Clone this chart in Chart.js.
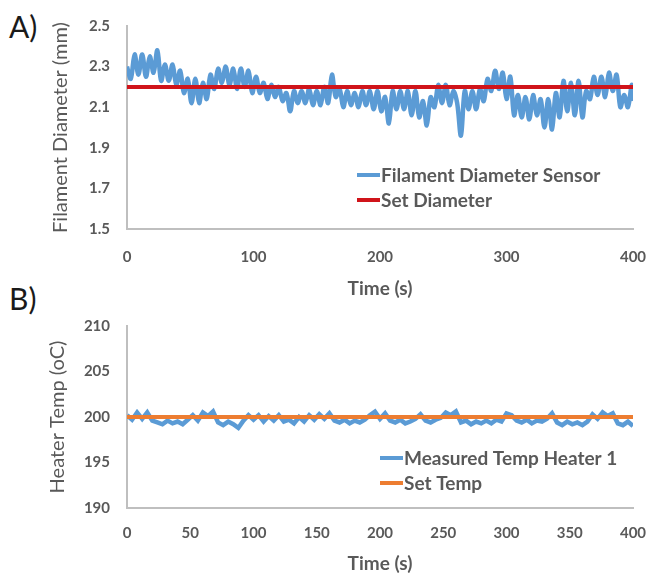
<!DOCTYPE html>
<html>
<head>
<meta charset="utf-8">
<script src="https://cdn.jsdelivr.net/npm/chart.js@4"></script>
<style>
  body { margin: 0; background: #fff; width: 649px; height: 575px; position: relative; overflow: hidden; }
  .panel-label { position: absolute; left: 9px; font-family: Lato, sans-serif; font-size: 30px; color: #1a1a1a; }
  #wrap-a { position: absolute; left: 0; top: 0; width: 649px; height: 300px; }
  #wrap-b { position: absolute; left: 0; top: 300px; width: 649px; height: 275px; }
</style>
</head>
<body>
<div class="panel-label" style="top:8px;">A)</div>
<div class="panel-label" style="top:280px;">B)</div>
<div id="wrap-a"><canvas id="chart-a"></canvas></div>
<div id="wrap-b"><canvas id="chart-b"></canvas></div>
<script>
// panel A: filament diameter (mm) vs time (s)
const timeA = [0, 3, 6, 9, 12, 15, 18, 21, 24, 27, 30, 33, 36, 39, 42, 45, 48, 51, 54, 57,
  60, 63, 66, 69, 72, 75, 78, 81, 84, 87, 90, 93, 96, 99, 102, 105, 108, 111, 114, 117,
  120, 123, 126, 129, 132, 135, 138, 141, 144, 147, 150, 153, 156, 159, 162, 165, 168, 171, 174, 177,
  180, 183, 186, 189, 192, 195, 198, 201, 204, 207, 210, 213, 216, 219, 222, 225, 228, 231, 234, 237,
  240, 243, 246, 249, 252, 255, 258, 261, 264, 267, 270, 273, 276, 279, 282, 285, 288, 291, 294, 297,
  300, 303, 306, 309, 312, 315, 318, 321, 324, 327, 330, 333, 336, 339, 342, 345, 348, 351, 354, 357,
  360, 363, 366, 369, 372, 375, 378, 381, 384, 387, 390, 393, 396, 399, 400];
const diameterSensor = [2.30, 2.24, 2.36, 2.26, 2.36, 2.25, 2.35, 2.27, 2.38, 2.23, 2.31, 2.23, 2.31, 2.21, 2.28, 2.17, 2.24, 2.12, 2.24, 2.12,
  2.22, 2.14, 2.26, 2.19, 2.29, 2.22, 2.30, 2.21, 2.29, 2.19, 2.29, 2.20, 2.28, 2.17, 2.25, 2.17, 2.22, 2.14, 2.21, 2.15,
  2.20, 2.13, 2.17, 2.08, 2.18, 2.12, 2.18, 2.12, 2.19, 2.11, 2.18, 2.11, 2.20, 2.12, 2.26, 2.15, 2.19, 2.10, 2.18, 2.11,
  2.17, 2.10, 2.18, 2.11, 2.18, 2.09, 2.18, 2.08, 2.15, 2.02, 2.18, 2.09, 2.18, 2.09, 2.18, 2.06, 2.18, 2.05, 2.13, 2.01,
  2.15, 2.10, 2.21, 2.12, 2.21, 2.11, 2.18, 2.12, 1.96, 2.18, 2.09, 2.18, 2.09, 2.19, 2.13, 2.24, 2.18, 2.28, 2.19, 2.27,
  2.14, 2.25, 2.06, 2.16, 2.05, 2.15, 2.04, 2.16, 2.06, 2.14, 2.00, 2.14, 1.99, 2.17, 2.05, 2.23, 2.08, 2.22, 2.06, 2.23,
  2.05, 2.18, 2.14, 2.25, 2.16, 2.25, 2.15, 2.27, 2.18, 2.26, 2.10, 2.16, 2.10, 2.21, 2.13];
const setTimeA = [0, 400];
const setDiameter = [2.2, 2.2];

// panel B: heater temperature (oC) vs time (s)
const timeB = [0, 4, 8, 12, 16, 20, 24, 28, 32, 36, 40, 44, 48, 52, 56, 60, 64, 68, 72, 76,
  80, 84, 88, 92, 96, 100, 104, 108, 112, 116, 120, 124, 128, 132, 136, 140, 144, 148, 152, 156,
  160, 164, 168, 172, 176, 180, 184, 188, 192, 196, 200, 204, 208, 212, 216, 220, 224, 228, 232, 236,
  240, 244, 248, 252, 256, 260, 264, 268, 272, 276, 280, 284, 288, 292, 296, 300, 304, 308, 312, 316,
  320, 324, 328, 332, 336, 340, 344, 348, 352, 356, 360, 364, 368, 372, 376, 380, 384, 388, 392, 396, 400];
const measuredTemp = [200.2, 199.7, 200.5, 199.8, 200.5, 199.6, 199.4, 199.2, 199.6, 199.3, 199.5, 199.2, 199.7, 200.2, 199.6, 200.5, 200.1, 200.6, 199.4, 199.1,
  199.5, 199.2, 198.8, 199.6, 200.2, 199.7, 200.2, 199.5, 200.1, 199.6, 200.2, 199.5, 199.7, 199.3, 200.0, 199.5, 200.2, 199.7, 200.3, 199.8,
  200.4, 199.6, 199.4, 199.7, 199.3, 199.6, 199.4, 199.7, 200.2, 200.6, 199.8, 200.4, 199.6, 199.4, 199.7, 199.3, 199.5, 199.8, 200.3, 199.6,
  199.4, 199.7, 199.9, 200.5, 200.2, 200.6, 199.4, 199.6, 199.2, 199.5, 199.3, 199.6, 199.3, 199.7, 199.5, 200.4, 200.2, 199.6, 199.4, 199.7,
  199.3, 199.6, 199.5, 199.8, 200.4, 199.4, 199.1, 199.5, 199.2, 199.4, 199.1, 199.5, 200.3, 199.8, 200.5, 200.1, 200.4, 199.3, 199.1, 199.5, 199.0];
const setTimeB = [0, 400];
const setTemp = [200, 200];

const textColor = '#595959';
const axisColor = '#bfbfbf';
const fontFamily = 'Lato, sans-serif';

const toPoints = (xs, ys) => xs.map((x, i) => ({ x: x, y: ys[i] }));

// draws the legend inside the plot area, lower right
const insideLegend = {
    id: 'insideLegend',
    afterDatasetsDraw(chart, args, opts) {
        const ctx = chart.ctx;
        const area = chart.chartArea;
        ctx.save();
        ctx.font = 'bold 19px ' + fontFamily;
        ctx.textBaseline = 'middle';
        opts.items.forEach((item, i) => {
            const y = area.bottom + opts.bottomOffset + i * 25;
            const x = area.left + opts.leftOffset;
            ctx.strokeStyle = item.color;
            ctx.lineWidth = 4;
            ctx.beginPath();
            ctx.moveTo(x, y);
            ctx.lineTo(x + 23, y);
            ctx.stroke();
            ctx.fillStyle = textColor;
            ctx.fillText(item.text, x + 24, y + 1);
        });
        ctx.restore();
    }
};

function makeChart(id, cfg) {
    return new Chart(document.getElementById(id), {
        type: 'line',
        data: { datasets: cfg.datasets },
        options: {
            responsive: true,
            maintainAspectRatio: false,
            animation: false,
            layout: { padding: { top: cfg.padTop, right: 16, left: 0, bottom: 0 } },
            elements: { point: { radius: 0 } },
            plugins: {
                legend: { display: false },
                tooltip: { enabled: false },
                insideLegend: cfg.legend
            },
            scales: {
                x: {
                    type: 'linear',
                    min: 0,
                    max: 400,
                    // invisible tick marks push the labels down without widening the side padding
                    grid: { color: 'transparent', tickColor: 'transparent', drawTicks: true, tickLength: cfg.xTickPad },
                    border: { color: axisColor, width: 2 },
                    ticks: { stepSize: cfg.xStep, padding: 0, color: textColor, font: { family: fontFamily, size: 15, weight: 'bold' } },
                    title: { display: true, text: 'Time (s)', color: textColor, padding: { top: 0, bottom: 0 }, font: { family: fontFamily, size: 19, weight: 'bold' } },
                    afterFit(scale) { scale.height = cfg.xHeight; }
                },
                y: {
                    min: cfg.yMin,
                    max: cfg.yMax,
                    grid: { color: 'transparent', drawTicks: false },
                    border: { color: axisColor, width: 2 },
                    ticks: {
                        stepSize: cfg.yStep,
                        padding: 17,
                        color: textColor,
                        font: { family: fontFamily, size: 15, weight: 'bold' },
                        callback: cfg.yFormat
                    },
                    title: { display: true, text: cfg.yTitle, color: textColor, padding: { top: cfg.yTitlePad, bottom: 0 }, font: { family: fontFamily, size: 20 } },
                    afterFit(scale) { scale.width = 127; }
                }
            }
        },
        plugins: [insideLegend]
    });
}

makeChart('chart-a', {
    padTop: 17,
    xHeight: 71,
    xStep: 100,
    xTickPad: 19,
    yMin: 1.5,
    yMax: 2.5,
    yStep: 0.2,
    yFormat: v => v.toFixed(1),
    yTitle: 'Filament Diameter (mm)',
    yTitlePad: 49,
    legend: {
        leftOffset: 230,
        bottomOffset: -54,
        items: [
            { text: 'Filament Diameter Sensor', color: '#5b9bd5' },
            { text: 'Set Diameter', color: '#d0141a' }
        ]
    },
    datasets: [
        { label: 'Set Diameter', data: toPoints(setTimeA, setDiameter), borderColor: '#d0141a', borderWidth: 4, order: 0 },
        { label: 'Filament Diameter Sensor', data: toPoints(timeA, diameterSensor), borderColor: '#5b9bd5', borderWidth: 4.5, tension: 0.35, order: 1 }
    ]
});

makeChart('chart-b', {
    padTop: 25,
    xHeight: 67,
    xStep: 50,
    xTickPad: 16,
    yMin: 190,
    yMax: 210,
    yStep: 5,
    yFormat: v => v,
    yTitle: 'Heater Temp (oC)',
    yTitlePad: 46,
    legend: {
        leftOffset: 253,
        bottomOffset: -50,
        items: [
            { text: 'Measured Temp Heater 1', color: '#5b9bd5' },
            { text: 'Set Temp', color: '#ed7d31' }
        ]
    },
    datasets: [
        { label: 'Set Temp', data: toPoints(setTimeB, setTemp), borderColor: '#ed7d31', borderWidth: 4, order: 0 },
        { label: 'Measured Temp Heater 1', data: toPoints(timeB, measuredTemp), borderColor: '#5b9bd5', borderWidth: 4.5, tension: 0, order: 1 }
    ]
});
</script>
</body>
</html>
